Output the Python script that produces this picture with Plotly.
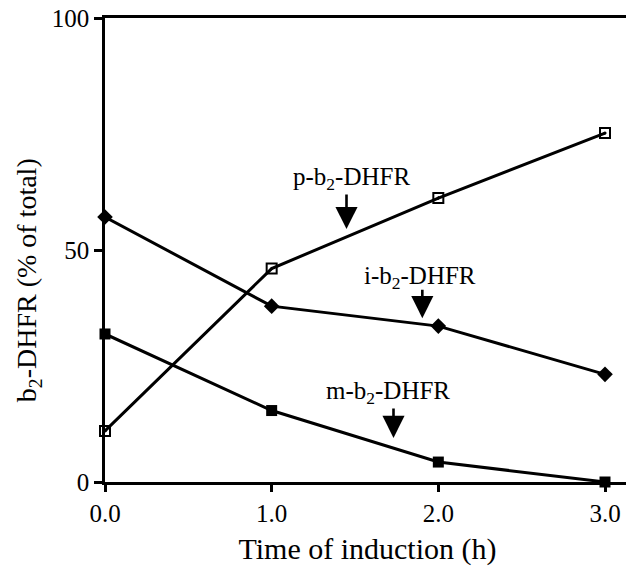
import plotly.graph_objects as go

time_h = [0.0, 1.0, 2.0, 3.0]
p_b2_dhfr = [11.0, 46.0, 61.2, 75.2]
i_b2_dhfr = [57.1, 37.9, 33.6, 23.2]
m_b2_dhfr = [31.9, 15.4, 4.3, 0.0]

x_ticks = [0, 1, 2, 3]
x_tick_labels = ["0.0", "1.0", "2.0", "3.0"]
y_ticks = [0, 50, 100]
y_tick_labels = ["0", "50", "100"]

font_family = "Liberation Serif, Times New Roman, serif"

fig = go.Figure()
series = [
    ("p-b2-DHFR", p_b2_dhfr, dict(symbol="square-open-dot", size=10, color="black", line=dict(color="black", width=2))),
    ("i-b2-DHFR", i_b2_dhfr, dict(symbol="diamond", size=12, color="black")),
    ("m-b2-DHFR", m_b2_dhfr, dict(symbol="square", size=11, color="black")),
]
for name, vals, mk in series:
    fig.add_trace(go.Scatter(
        x=time_h, y=vals, mode="lines+markers", name=name,
        line=dict(color="black", width=3), marker=mk, cliponaxis=False,
        showlegend=False))

labels = [
    ("p-b<sub>2</sub>-DHFR", 1.479, 65.5),
    ("i-b<sub>2</sub>-DHFR", 1.892, 44.0),
    ("m-b<sub>2</sub>-DHFR", 1.695, 19.2),
]
for txt, x, y in labels:
    fig.add_annotation(x=x, y=y, xref="x", yref="y", text=txt, showarrow=False,
                       font=dict(family=font_family, size=25, color="black"))

arrows = [(1.449, 54.5, -36), (1.904, 35.3, -30), (1.731, 9.5, -31)]
for x, y, ay in arrows:
    fig.add_annotation(x=x, y=y, xref="x", yref="y", text="", showarrow=True,
                       ax=0, ay=ay, arrowhead=2, arrowsize=1.7, arrowwidth=2.6,
                       arrowcolor="black")

# y-axis title as rotated text
fig.add_annotation(x=0, y=0.435, xref="paper", yref="paper", xshift=-77,
                   text="b<sub>2</sub>-DHFR (% of total)", textangle=-90,
                   showarrow=False, xanchor="center", yanchor="middle",
                   font=dict(family=font_family, size=28, color="black"))

fig.update_layout(
    width=626, height=565,
    margin=dict(l=97, r=4, t=10, b=91),
    plot_bgcolor="white", paper_bgcolor="white",
    font=dict(family=font_family, size=25, color="black"),
    xaxis=dict(range=[0, 3.15], tickvals=x_ticks, ticktext=x_tick_labels,
               automargin=False, ticklabeloverflow="allow",
               showgrid=False, zeroline=False, showline=True, linecolor="black",
               linewidth=2.5, mirror=True, ticks="outside", ticklen=7, tickwidth=2.5,
               tickcolor="black", tickfont=dict(size=25),
               title=dict(text="Time of induction (h)", font=dict(size=30), standoff=13)),
    yaxis=dict(range=[0, 100], tickvals=y_ticks, ticktext=y_tick_labels,
               automargin=False, ticklabeloverflow="allow",
               showgrid=False, zeroline=False, showline=True, linecolor="black",
               linewidth=2.5, mirror=False, ticks="outside", ticklen=8, tickwidth=2.5,
               tickcolor="black", tickfont=dict(size=25)),
)

fig.write_html("out.html")
